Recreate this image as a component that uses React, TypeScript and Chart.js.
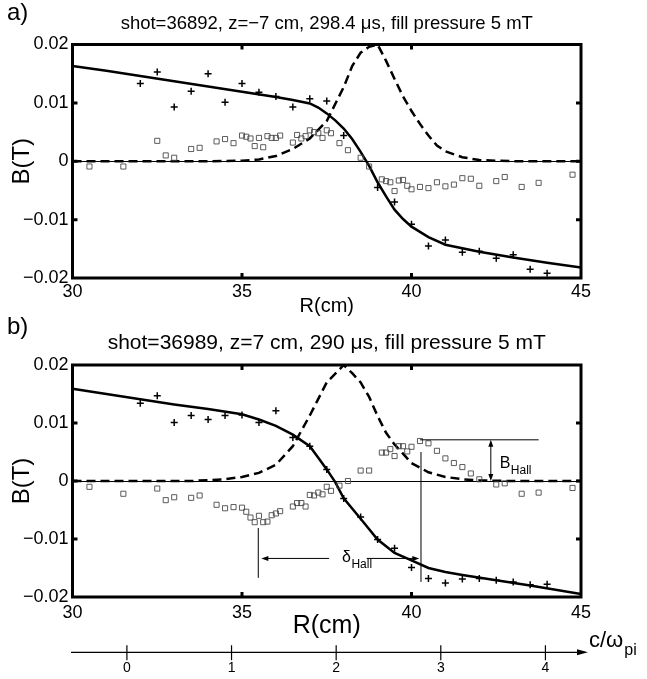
import React, { useEffect, useRef } from 'react';
import { Chart, registerables } from 'chart.js';

Chart.register(...registerables);

const FONT = "'Liberation Sans', Arial, Helvetica, sans-serif";

// ---------- axes ----------
const R_MIN = 30;
const R_MAX = 45;
const B_MIN = -0.02;
const B_MAX = 0.02;
const R_TICKS = [30, 35, 40, 45];
const B_TICKS = [-0.02, -0.01, 0, 0.01, 0.02];
const CW_TICKS = [0, 1, 2, 3, 4];
const CW_MIN = -0.52;
const CW_MAX = 4.34;

const TITLE_A = 'shot=36892, z=\u22127 cm, 298.4 \u03bcs, fill pressure 5 mT';
const TITLE_B = 'shot=36989, z=7 cm, 290 \u03bcs, fill pressure 5 mT';

// ---------- panel a ----------
const A_FIT_R = [30, 31, 32, 33, 34, 35, 36, 36.5, 37, 37.25, 37.5, 37.75, 38, 38.25, 38.5, 38.75, 39, 39.25, 39.5, 39.75, 40, 40.5, 41, 42, 43, 44, 45];
const A_FIT_B = [0.0163, 0.0155, 0.0146, 0.0137, 0.0128, 0.0119, 0.011, 0.0105, 0.0099, 0.0092, 0.0082, 0.007, 0.0056, 0.0038, 0.0016, -0.0008, -0.0036, -0.006, -0.0083, -0.0099, -0.0112, -0.013, -0.0143, -0.0155, -0.0165, -0.0174, -0.0182];

const A_DASH_R = [30, 34, 35, 35.5, 36, 36.5, 37, 37.5, 38, 38.25, 38.5, 38.75, 39, 39.25, 39.5, 39.75, 40, 40.25, 40.5, 40.75, 41, 41.5, 42, 43, 45];
const A_DASH_B = [0, 0, 0.0001, 0.0003, 0.0009, 0.0021, 0.0039, 0.0069, 0.0127, 0.0163, 0.0186, 0.0196, 0.02, 0.0172, 0.0141, 0.0111, 0.0086, 0.0064, 0.0044, 0.0027, 0.0017, 0.0007, 0.0002, 0, 0];

const A_PLUS_R = [32, 32.5, 33, 33.5, 34, 34.5, 35, 35.5, 36, 36.5, 37, 37.5, 38, 39, 39.5, 40, 40.5, 41, 41.5, 42, 42.5, 43, 43.5, 44];
const A_PLUS_B = [0.0133, 0.0153, 0.0093, 0.012, 0.015, 0.0101, 0.0133, 0.0118, 0.0111, 0.0093, 0.0107, 0.0103, 0.0044, -0.0045, -0.007, -0.0108, -0.0145, -0.0135, -0.0156, -0.0154, -0.0166, -0.016, -0.0185, -0.0192];

const A_SQ_R = [30.5, 31.5, 32.5, 32.75, 33, 33.5, 33.75, 34.25, 34.5, 34.75, 35, 35.125, 35.25, 35.375, 35.5, 35.625, 35.75, 35.875, 36, 36.125, 36.5, 36.625, 36.75, 36.875, 37, 37.125, 37.25, 37.375, 37.5, 37.625, 37.875, 38.125, 38.5, 38.75, 39.125, 39.25, 39.375, 39.5, 39.625, 39.75, 39.875, 40, 40.25, 40.5, 40.75, 41, 41.25, 41.5, 41.75, 42, 42.5, 42.75, 43.25, 43.75, 44.75];
const A_SQ_B = [-0.0009, -0.0009, 0.0035, 0.001, 0.0006, 0.0021, 0.0023, 0.0034, 0.0038, 0.0031, 0.0044, 0.0042, 0.0039, 0.0026, 0.004, 0.0024, 0.0043, 0.004, 0.004, 0.0044, 0.0032, 0.0045, 0.0039, 0.0043, 0.0053, 0.005, 0.0048, 0.004, 0.0053, 0.0048, 0.0031, 0.0019, 0.0006, -0.0009, -0.0031, -0.0034, -0.0036, -0.0051, -0.0033, -0.0032, -0.0042, -0.0048, -0.0044, -0.0046, -0.0036, -0.0043, -0.004, -0.0029, -0.003, -0.0042, -0.0034, -0.0027, -0.0044, -0.0037, -0.0023];

// ---------- panel b ----------
const B_FIT_R = [30, 31, 32, 33, 34, 35, 35.5, 36, 36.5, 37, 37.25, 37.5, 37.75, 38, 38.5, 39, 39.5, 40, 40.5, 41, 41.5, 42.5, 43.5, 45];
const B_FIT_B = [0.0159, 0.015, 0.0141, 0.0132, 0.0124, 0.0115, 0.0106, 0.0095, 0.008, 0.006, 0.004, 0.002, -0.0002, -0.003, -0.0065, -0.0101, -0.0124, -0.0137, -0.015, -0.0157, -0.0162, -0.0171, -0.018, -0.0195];

const B_DASH_R = [30, 33.5, 34.5, 35, 35.5, 36, 36.5, 37, 37.5, 38, 38.25, 38.5, 38.75, 39, 39.25, 39.5, 40, 40.5, 41, 41.5, 42, 43, 45];
const B_DASH_B = [0, 0, 0.0003, 0.0007, 0.0014, 0.0028, 0.006, 0.0113, 0.017, 0.02, 0.0186, 0.017, 0.0145, 0.0112, 0.0083, 0.0063, 0.0031, 0.0015, 0.0007, 0.0003, 0.0001, 0, 0];

const B_PLUS_R = [32, 32.5, 33, 33.5, 34, 34.5, 35, 35.5, 36, 36.5, 37, 37.5, 38, 38.5, 39, 39.5, 40, 40.5, 41, 41.5, 42, 42.5, 43, 43.5, 44];
const B_PLUS_B = [0.0134, 0.0147, 0.0101, 0.0113, 0.0106, 0.0113, 0.0114, 0.0101, 0.0121, 0.0075, 0.006, 0.002, -0.003, -0.0062, -0.0101, -0.0116, -0.0149, -0.0168, -0.0176, -0.0169, -0.0168, -0.0171, -0.0174, -0.0179, -0.0178];

const B_SQ_R = [30.5, 31.5, 32.5, 32.75, 33, 33.5, 33.75, 34.25, 34.5, 34.75, 35, 35.125, 35.25, 35.375, 35.5, 35.625, 35.75, 35.875, 36, 36.125, 36.5, 36.625, 36.75, 36.875, 37, 37.125, 37.25, 37.375, 37.5, 37.625, 37.875, 38.125, 38.5, 38.75, 39.125, 39.25, 39.375, 39.5, 39.625, 39.75, 39.875, 40, 40.25, 40.5, 40.75, 41, 41.25, 41.5, 41.75, 42, 42.5, 42.75, 43.25, 43.75, 44.75];
const B_SQ_B = [-0.001, -0.0022, -0.0013, -0.0033, -0.0028, -0.0029, -0.0025, -0.0041, -0.0047, -0.0045, -0.0046, -0.0053, -0.0063, -0.0071, -0.006, -0.0071, -0.007, -0.0059, -0.0056, -0.0052, -0.0044, -0.0038, -0.0038, -0.0044, -0.0024, -0.0025, -0.002, -0.0023, -0.001, -0.0017, -0.0008, 0, 0.0018, 0.0018, 0.0049, 0.0049, 0.0055, 0.0043, 0.006, 0.006, 0.0051, 0.0059, 0.0069, 0.0065, 0.0052, 0.0039, 0.0031, 0.0024, 0.0013, 0.0003, -0.0006, -0.0004, -0.0022, -0.002, -0.0012];

// ---------- annotations of panel b (data units) ----------
const BHALL_LEVEL = 0.0071;
const BHALL_LINE_R = [40.25, 43.75];
const BHALL_ARROW_R = 42.34;
const BHALL_LABEL_AT = [42.6, 0.0022];
const DELTA_LEFT_LINE = [35.48, -0.0081, -0.0167];
const DELTA_RIGHT_LINE = [40.28, 0.005, -0.0174];
const DELTA_ARROW_B = -0.01335;
const DELTA_LEFT_ARROW_R = [37.57, 35.57];
const DELTA_RIGHT_ARROW_R = [38.68, 40.23];
const DELTA_LABEL_AT = [37.95, -0.014];

const zip = (xs: number[], ys: number[]) => xs.map((x, i) => ({ x, y: ys[i] }));

const fmtB = (v: number) => {
  const n = Math.round(v * 100);
  if (n === 0) return '0';
  return (n < 0 ? '\u2212' : '') + '0.0' + Math.abs(n);
};

function arrowHead(ctx: CanvasRenderingContext2D, x: number, y: number, dx: number, dy: number, len: number, half: number) {
  const bx = x - dx * len;
  const by = y - dy * len;
  const px = -dy;
  const py = dx;
  ctx.beginPath();
  ctx.moveTo(x, y);
  ctx.lineTo(bx + px * half, by + py * half);
  ctx.lineTo(bx - px * half, by - py * half);
  ctx.closePath();
  ctx.fill();
}

const framePlugin = {
  id: 'frame',
  afterDraw(chart: any, _args: any, opts: any) {
    const ctx: CanvasRenderingContext2D = chart.ctx;
    const ca = chart.chartArea;
    const xs = chart.scales.x;
    const ys = chart.scales.y;
    ctx.save();
    ctx.strokeStyle = '#000';
    ctx.fillStyle = '#000';
    ctx.lineWidth = 3;
    ctx.strokeRect(ca.left, ca.top, ca.right - ca.left, ca.bottom - ca.top);
    ctx.beginPath();
    const tl = 5;
    R_TICKS.forEach((v) => {
      if (v === R_MIN || v === R_MAX) return;
      const px = xs.getPixelForValue(v);
      ctx.moveTo(px, ca.bottom);
      ctx.lineTo(px, ca.bottom - tl);
      ctx.moveTo(px, ca.top);
      ctx.lineTo(px, ca.top + tl);
    });
    B_TICKS.forEach((v) => {
      if (v === B_MIN || v === B_MAX) return;
      const py = ys.getPixelForValue(v);
      ctx.moveTo(ca.left, py);
      ctx.lineTo(ca.left + tl, py);
      ctx.moveTo(ca.right, py);
      ctx.lineTo(ca.right - tl, py);
    });
    ctx.stroke();
    ctx.font = `24px ${FONT}`;
    ctx.textBaseline = 'middle';
    ctx.textAlign = 'left';
    ctx.fillText(opts.letter, 7, opts.letterY);
    ctx.restore();
  },
};

const annotPlugin = {
  id: 'annot',
  afterDraw(chart: any) {
    const ctx: CanvasRenderingContext2D = chart.ctx;
    const xs = chart.scales.x;
    const ys = chart.scales.y;
    const X = (v: number) => xs.getPixelForValue(v);
    const Y = (v: number) => ys.getPixelForValue(v);
    ctx.save();
    ctx.strokeStyle = '#000';
    ctx.fillStyle = '#000';
    ctx.lineWidth = 1;
    ctx.beginPath();
    ctx.moveTo(X(BHALL_LINE_R[0]), Y(BHALL_LEVEL));
    ctx.lineTo(X(BHALL_LINE_R[1]), Y(BHALL_LEVEL));
    ctx.moveTo(X(BHALL_ARROW_R), Y(BHALL_LEVEL) + 6);
    ctx.lineTo(X(BHALL_ARROW_R), Y(0) - 6);
    ctx.moveTo(X(DELTA_LEFT_LINE[0]), Y(DELTA_LEFT_LINE[1]));
    ctx.lineTo(X(DELTA_LEFT_LINE[0]), Y(DELTA_LEFT_LINE[2]));
    ctx.moveTo(X(DELTA_RIGHT_LINE[0]), Y(DELTA_RIGHT_LINE[1]));
    ctx.lineTo(X(DELTA_RIGHT_LINE[0]), Y(DELTA_RIGHT_LINE[2]));
    ctx.moveTo(X(DELTA_LEFT_ARROW_R[0]), Y(DELTA_ARROW_B));
    ctx.lineTo(X(DELTA_LEFT_ARROW_R[1]) + 6, Y(DELTA_ARROW_B));
    ctx.moveTo(X(DELTA_RIGHT_ARROW_R[0]), Y(DELTA_ARROW_B));
    ctx.lineTo(X(DELTA_RIGHT_ARROW_R[1]) - 6, Y(DELTA_ARROW_B));
    ctx.stroke();
    arrowHead(ctx, X(BHALL_ARROW_R), Y(BHALL_LEVEL), 0, -1, 7, 2.5);
    arrowHead(ctx, X(BHALL_ARROW_R), Y(0), 0, 1, 7, 2.5);
    arrowHead(ctx, X(DELTA_LEFT_ARROW_R[1]), Y(DELTA_ARROW_B), -1, 0, 7, 2.5);
    arrowHead(ctx, X(DELTA_RIGHT_ARROW_R[1]), Y(DELTA_ARROW_B), 1, 0, 7, 2.5);
    ctx.textBaseline = 'alphabetic';
    ctx.textAlign = 'left';
    let bx = X(BHALL_LABEL_AT[0]);
    let by = Y(BHALL_LABEL_AT[1]);
    ctx.font = `16px ${FONT}`;
    ctx.fillText('B', bx, by);
    let w = ctx.measureText('B').width;
    ctx.font = `12px ${FONT}`;
    ctx.fillText('Hall', bx + w + 0.5, by + 5.5);
    bx = X(DELTA_LABEL_AT[0]);
    by = Y(DELTA_LABEL_AT[1]);
    ctx.font = `16px ${FONT}`;
    ctx.fillText('\u03b4', bx, by);
    w = ctx.measureText('\u03b4').width;
    ctx.font = `12px ${FONT}`;
    ctx.fillText('Hall', bx + w + 0.5, by + 6);

    // c / omega_pi axis
    const x2 = chart.scales.x2;
    const ca = chart.chartArea;
    const ly = x2.top;
    const tip = ca.right + 7;
    ctx.lineWidth = 1.2;
    ctx.beginPath();
    ctx.moveTo(ca.left - 1.5, ly);
    ctx.lineTo(tip - 8, ly);
    CW_TICKS.forEach((v) => {
      const px = x2.getPixelForValue(v);
      ctx.moveTo(px, ly - 7);
      ctx.lineTo(px, ly + 8);
    });
    ctx.stroke();
    arrowHead(ctx, tip, ly, 1, 0, 11, 3);
    ctx.font = `22px ${FONT}`;
    ctx.fillText('c/\u03c9', tip + 1, ly - 5);
    w = ctx.measureText('c/\u03c9').width;
    ctx.font = `16px ${FONT}`;
    ctx.fillText('pi', tip + 1 + w + 1, ly + 3);
    ctx.restore();
  },
};

interface PanelSpec {
  title: string;
  titleSize: number;
  titlePad: { top: number; bottom: number };
  letter: string;
  letterY: number;
  fitR: number[];
  fitB: number[];
  dashR: number[];
  dashB: number[];
  plusR: number[];
  plusB: number[];
  sqR: number[];
  sqB: number[];
  xHeight: number;
  xLabelPad: number;
  xTitleSize: number;
  xTitlePadBottom: number;
  withCw: boolean;
}

function buildConfig(p: PanelSpec): any {
  const scales: any = {
    x: {
      type: 'linear',
      min: R_MIN,
      max: R_MAX,
      weight: 0,
      afterBuildTicks: (s: any) => {
        s.ticks = R_TICKS.map((v) => ({ value: v }));
      },
      ticks: {
        font: { family: FONT, size: 18 },
        color: '#000',
        padding: p.xLabelPad,
        maxRotation: 0,
        autoSkip: false,
        callback: (v: number) => String(v),
      },
      grid: { display: false, drawTicks: false },
      border: { display: false },
      title: {
        display: true,
        text: 'R(cm)',
        color: '#000',
        font: { family: FONT, size: p.xTitleSize },
        padding: { top: 0, bottom: p.xTitlePadBottom },
      },
      afterFit: (s: any) => {
        s.height = p.xHeight;
      },
    },
    y: {
      type: 'linear',
      min: B_MIN,
      max: B_MAX,
      afterBuildTicks: (s: any) => {
        s.ticks = B_TICKS.map((v) => ({ value: v }));
      },
      ticks: {
        font: { family: FONT, size: 18 },
        color: '#000',
        padding: 4,
        callback: (v: number) => fmtB(v),
      },
      grid: {
        drawTicks: false,
        lineWidth: 1,
        color: (c: any) => (c.tick && Math.abs(c.tick.value) < 1e-9 ? '#000' : 'rgba(0,0,0,0)'),
      },
      border: { display: false },
      title: {
        display: true,
        text: 'B(T)',
        color: '#000',
        font: { family: FONT, size: 24 },
        padding: { top: 8, bottom: 0 },
      },
      afterFit: (s: any) => {
        s.width = 72.5;
      },
    },
  };
  if (p.withCw) {
    scales.x2 = {
      type: 'linear',
      axis: 'x',
      position: 'bottom',
      weight: 1,
      min: CW_MIN,
      max: CW_MAX,
      afterBuildTicks: (s: any) => {
        s.ticks = CW_TICKS.map((v) => ({ value: v }));
      },
      ticks: {
        font: { family: FONT, size: 14 },
        color: '#000',
        padding: 7,
        maxRotation: 0,
        autoSkip: false,
        callback: (v: number) => String(v),
      },
      grid: { display: false, drawTicks: false },
      border: { display: false },
      afterFit: (s: any) => {
        s.height = 26.7;
      },
    };
  }
  return {
    type: 'scatter',
    data: {
      datasets: [
        {
          label: 'squares',
          data: zip(p.sqR, p.sqB),
          pointStyle: 'rect',
          pointRadius: 3.6,
          borderColor: '#4a4a4a',
          borderWidth: 0.9,
          backgroundColor: 'rgba(0,0,0,0)',
          showLine: false,
        },
        {
          label: 'plus',
          data: zip(p.plusR, p.plusB),
          pointStyle: 'cross',
          pointRadius: 3.5,
          borderColor: '#000',
          borderWidth: 1.5,
          showLine: false,
        },
        {
          label: 'fit',
          data: zip(p.fitR, p.fitB),
          showLine: true,
          pointRadius: 0,
          borderColor: '#000',
          borderWidth: 2.5,
          tension: 0,
          fill: false,
        },
        {
          label: 'dashed',
          data: zip(p.dashR, p.dashB),
          showLine: true,
          pointRadius: 0,
          borderColor: '#000',
          borderWidth: 2.5,
          borderDash: [9, 5],
          tension: 0,
          fill: false,
        },
      ],
    },
    options: {
      responsive: false,
      animation: false,
      events: [],
      layout: { padding: { left: 0, right: 66, top: 0, bottom: 0 } },
      scales,
      plugins: {
        legend: { display: false },
        tooltip: { enabled: false },
        title: {
          display: true,
          fullSize: false,
          text: p.title,
          color: '#000',
          font: { family: FONT, size: p.titleSize, weight: 'normal' },
          padding: p.titlePad,
        },
        frame: { letter: p.letter, letterY: p.letterY },
      },
    },
    plugins: p.withCw ? [framePlugin, annotPlugin] : [framePlugin],
  };
}

export default function App() {
  const topRef = useRef<HTMLCanvasElement>(null);
  const botRef = useRef<HTMLCanvasElement>(null);
  useEffect(() => {
    const a = new Chart(
      topRef.current as HTMLCanvasElement,
      buildConfig({
        title: TITLE_A,
        titleSize: 18.5,
        titlePad: { top: 12.9, bottom: 9.4 },
        letter: 'a)',
        letterY: 13,
        fitR: A_FIT_R,
        fitB: A_FIT_B,
        dashR: A_DASH_R,
        dashB: A_DASH_B,
        plusR: A_PLUS_R,
        plusB: A_PLUS_B,
        sqR: A_SQ_R,
        sqB: A_SQ_B,
        xHeight: 52,
        xLabelPad: 3,
        xTitleSize: 20,
        xTitlePadBottom: 12,
        withCw: false,
      })
    );
    const b = new Chart(
      botRef.current as HTMLCanvasElement,
      buildConfig({
        title: TITLE_B,
        titleSize: 21,
        titlePad: { top: 20.4, bottom: 9.4 },
        letter: 'b)',
        letterY: 17,
        fitR: B_FIT_R,
        fitB: B_FIT_B,
        dashR: B_DASH_R,
        dashB: B_DASH_B,
        plusR: B_PLUS_R,
        plusB: B_PLUS_B,
        sqR: B_SQ_R,
        sqB: B_SQ_B,
        xHeight: 55.3,
        xLabelPad: 5,
        xTitleSize: 25,
        xTitlePadBottom: 11,
        withCw: true,
      })
    );
    return () => {
      a.destroy();
      b.destroy();
    };
  }, []);
  return (
    <div style={{ position: 'absolute', left: 0, top: 0, width: 647, height: 679, background: '#fff' }}>
      <canvas ref={topRef} width={647} height={330} style={{ position: 'absolute', left: 0, top: 0 }} />
      <canvas ref={botRef} width={647} height={369} style={{ position: 'absolute', left: 0, top: 310 }} />
    </div>
  );
}
